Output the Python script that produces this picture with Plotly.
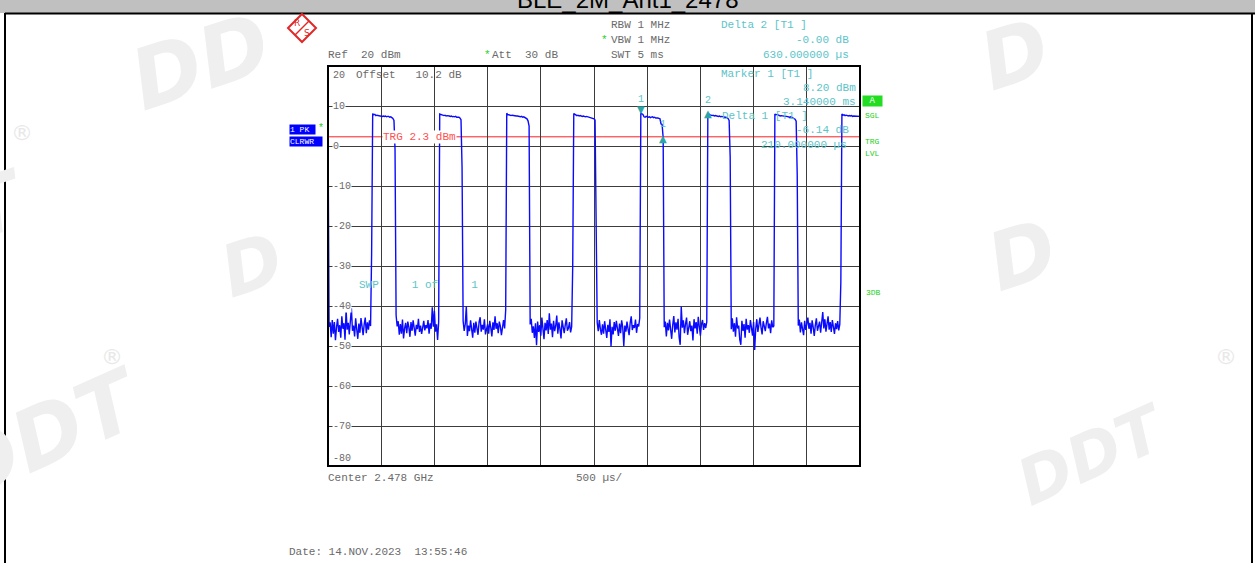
import plotly.graph_objects as go

# ---------------- data ----------------
DT_US = 10                      # sweep point spacing (µs)
x_range_us = [0, 5000]
y_range_db = [-80, 20]
y_tick_values = [20, 10, 0, -10, -20, -30, -40, -50, -60, -70, -80]
trigger_db = 2.3

start_db = 5.2
pulse_rise_idx = [42, 105, 168, 231, 294, 357, 420, 483]
rise_edge_db = [-27.0, -44.0, -41.0, -30.0, -43.0, -44.0, -45.0, -34.0]
fall_edge_db = [-0.8, -5.5, 5.0, -14.8, 2.06, -2.8, -7.3, None]

top1 = [8.1, 7.8, 7.9, 7.6, 7.7, 7.6, 7.5, 7.6, 7.5, 7.4, 7.5, 7.4, 7.5, 7.3, 7.4, 7.4, 7.2, 7.3, 7.1, 6.9, 6.4]
top2 = [8.0, 7.9, 7.7, 7.8, 7.6, 7.7, 7.5, 7.6, 7.6, 7.5, 7.4, 7.5, 7.3, 7.4, 7.3, 7.4, 7.2, 7.3, 7.2, 7.0, 6.6]
top3 = [8.2, 7.8, 7.8, 7.7, 7.6, 7.7, 7.6, 7.5, 7.6, 7.5, 7.5, 7.4, 7.4, 7.3, 7.4, 7.2, 7.3, 7.2, 7.1, 6.8, 6.3]
top4 = [8.1, 7.9, 7.8, 7.6, 7.7, 7.5, 7.6, 7.5, 7.4, 7.5, 7.4, 7.3, 7.4, 7.3, 7.2, 7.3, 7.2, 7.1, 7.0, 6.8, 6.5]
top5 = [8.2, 8.0, 7.9, 7.3, 7.2, 7.4, 7.3, 7.2, 7.3, 7.1, 7.2, 7.3, 7.1, 7.2, 7.0, 7.1, 7.0, 6.9, 6.8, 5.5, 5.4]
top6 = [8.2, 7.9, 7.8, 7.7, 7.6, 7.7, 7.5, 7.6, 7.5, 7.5, 7.4, 7.5, 7.3, 7.4, 7.3, 7.3, 7.2, 7.2, 7.1, 6.9, 6.4]
top7 = [8.0, 7.8, 7.9, 7.7, 7.6, 7.5, 7.6, 7.5, 7.4, 7.5, 7.4, 7.4, 7.3, 7.4, 7.2, 7.3, 7.2, 7.1, 7.0, 6.7, 6.2]
top8 = [8.0, 7.7, 7.8, 7.6, 7.7, 7.6, 7.5, 7.6, 7.5, 7.6, 7.4, 7.5, 7.5, 7.4, 7.5, 7.4, 7.5, 7.4]

noise0 = [-45.2, -44.1, -47.8, -43.5, -46.9, -44.0, -48.6, -45.3, -43.2, -46.5,
          -44.8, -47.9, -42.6, -45.7, -44.3, -48.4, -41.0, -45.9, -44.2, -47.1,
          -43.8, -40.6, -46.2, -44.9, -47.6, -43.1, -45.8, -48.2, -44.4, -46.7,
          -43.0, -45.5, -47.3, -44.6, -42.9, -46.8, -44.1, -45.9, -43.6, -45.0]
noise1 = [-42.3, -45.1, -43.8, -47.2, -44.5, -46.9, -43.4, -48.1, -45.6, -44.2,
          -46.8, -43.9, -45.3, -47.7, -44.0, -46.2, -43.6, -45.9, -47.4, -44.7,
          -45.8, -43.2, -46.5, -44.9, -47.0, -45.4, -43.7, -46.1, -44.8, -45.6,
          -43.5, -46.9, -44.3, -45.7, -40.3, -45.2, -41.2, -46.4, -44.6, -48.5]
noise2 = [-43.8, -46.2, -44.5, -40.1, -47.5, -44.9, -46.3, -43.6, -45.8, -47.9,
          -44.2, -46.7, -43.9, -45.5, -47.2, -44.0, -42.8, -46.4, -44.7, -45.9,
          -43.3, -47.1, -45.2, -44.6, -46.9, -43.7, -45.4, -47.6, -44.1, -46.0,
          -42.6, -45.7, -44.3, -46.8, -43.9, -45.1, -47.3, -44.8, -43.5, -45.6]
noise3 = [-44.6, -43.2, -46.7, -45.1, -48.0, -44.3, -49.8, -43.9, -46.5, -44.8,
          -47.4, -42.9, -45.6, -48.3, -44.2, -46.1, -43.5, -47.0, -41.8, -45.9,
          -44.4, -47.8, -43.7, -46.3, -45.0, -42.4, -46.9, -44.1, -45.7, -48.1,
          -43.6, -45.3, -46.8, -44.7, -43.1, -46.2, -45.5, -44.0, -46.6, -45.2]
noise4 = [-44.1, -46.3, -43.5, -45.8, -47.2, -44.6, -46.9, -43.8, -45.4, -48.0,
          -44.7, -46.5, -43.3, -50.1, -45.2, -47.1, -44.0, -46.2, -43.7, -45.9,
          -47.5, -44.4, -46.8, -43.6, -45.3, -50.0, -44.9, -46.4, -43.9, -45.7,
          -47.3, -44.2, -42.6, -46.0, -44.8, -45.5, -43.4, -46.7, -44.5, -45.1]
noise5 = [-45.3, -43.9, -47.6, -44.2, -46.1, -43.4, -45.8, -48.2, -44.7, -42.5,
          -46.6, -44.1, -45.9, -43.2, -47.8, -49.7, -40.2, -45.4, -43.6, -46.8,
          -44.5, -42.9, -47.2, -45.0, -43.8, -46.3, -44.9, -48.6, -43.3, -45.6,
          -44.0, -46.9, -42.7, -45.2, -47.4, -44.6, -43.5, -46.0, -44.3, -45.5]
noise6 = [-45.8, -43.1, -46.4, -44.3, -47.7, -42.8, -45.6, -44.9, -48.4, -49.7,
          -43.7, -46.2, -44.5, -47.9, -43.2, -45.9, -44.8, -46.7, -43.5, -45.2,
          -47.4, -44.0, -51.0, -45.7, -43.3, -46.5, -44.6, -42.9, -45.4, -47.1,
          -43.8, -45.0, -46.3, -44.2, -42.7, -45.6, -44.4, -46.8, -43.6, -45.3]
noise7 = [-44.9, -43.4, -46.6, -44.1, -45.8, -47.3, -43.7, -46.0, -44.5, -42.9,
          -45.7, -44.2, -46.9, -43.6, -45.3, -47.5, -44.8, -43.1, -46.2, -45.0,
          -43.9, -46.7, -44.4, -41.5, -45.6, -43.3, -46.4, -44.7, -42.6, -45.9,
          -44.0, -46.5, -43.5, -45.2, -47.0, -44.3, -45.8, -43.8, -46.1, -44.6]

tops = [top1, top2, top3, top4, top5, top6, top7, top8]
noises = [noise0, noise1, noise2, noise3, noise4, noise5, noise6, noise7]

marker1_idx = 294   # Marker 1 [T1]
delta1_idx = 315    # Delta 1 [T1]
delta2_idx = 357    # Delta 2 [T1]

# ---------------- build trace ----------------
trace_db = [start_db] + noises[0]
for k, r in enumerate(pulse_rise_idx):
    trace_db.append(rise_edge_db[k])
    trace_db += tops[k]
    if fall_edge_db[k] is not None:
        trace_db.append(fall_edge_db[k])
    if k + 1 < len(noises):
        trace_db += noises[k + 1]
trace_us = [i * DT_US for i in range(len(trace_db))]

# ---------------- layout helpers ----------------
W, H = 1255, 563
PL, PR, PT, PB = 328, 860, 66, 466


def px(x):
    return (x - PL) / (PR - PL)


def py(y):
    return (PB - y) / (PB - PT)


MONO = "Liberation Mono"
GRAY = "#6a6a6a"
CYAN = "#5cc4c8"
GREEN = "#22d022"
annotations = []


def txt(x, y, s, color=GRAY, size=11, xanchor="left", family=MONO, **kw):
    d = dict(x=px(x), y=py(y), xref="paper", yref="paper",
             text=s.replace(" ", "\u00a0"), showarrow=False,
             xanchor=xanchor, yanchor="middle",
             font=dict(family=family, size=size, color=color), borderpad=0)
    d.update(kw)
    annotations.append(d)


fig = go.Figure()
fig.add_trace(go.Scatter(x=trace_us, y=trace_db, mode="lines",
                         line=dict(color="#0a0aff", width=1.4), hoverinfo="skip",
                         showlegend=False))

# watermarks (faint logo texts)
WM = "#efefef"
for (x, y, s, size, ang) in [(200, 62, "DD", 84, -18), (252, 265, "D", 72, -18),
                             (-5, 205, "T", 80, -18), (45, 435, "DDT", 84, -24),
                             (1015, 55, "D", 80, -18), (1022, 255, "D", 80, -18),
                             (1092, 455, "DDT", 64, -24)]:
    annotations.append(dict(x=px(x), y=py(y), xref="paper", yref="paper", text=s,
                            showarrow=False, textangle=ang, xanchor="center", yanchor="middle",
                            font=dict(family="DejaVu Sans", size=size, color=WM,
                                      weight="bold", style="italic")))
for (x, y) in [(22, 132), (112, 356), (1226, 356)]:
    txt(x, y, "®", color="#e8e8e8", size=22, xanchor="center", family="DejaVu Sans")

# title (cut off by the top edge)
annotations.append(dict(x=px(628), y=py(-1), xref="paper", yref="paper",
                        text="BLE_2M_Ant1_2478", showarrow=False, xanchor="center",
                        yanchor="middle", font=dict(family="Liberation Sans", size=24, color="#000")))

# header texts
txt(610, 25, "RBW 1 MHz")
txt(604, 40, "*", color=GREEN, xanchor="center")
txt(610, 40, "VBW 1 MHz")
txt(610, 55, "SWT 5 ms")
txt(327, 55, "Ref  20 dBm")
txt(487, 55, "*", color=GREEN, xanchor="center")
txt(491, 55, "Att  30 dB")
txt(720, 25, "Delta 2 [T1 ]", color=CYAN)
txt(850, 40, "-0.00 dB", color=CYAN, xanchor="right")
txt(850, 55, "630.000000 µs", color=CYAN, xanchor="right")

# inside plot texts
txt(355, 75, "Offset   10.2 dB")
txt(720, 74, "Marker 1 [T1 ]", color=CYAN)
txt(857, 88, "8.20 dBm", color=CYAN, xanchor="right")
txt(857, 102, "3.140000 ms", color=CYAN, xanchor="right")
txt(721, 116, "Delta 1 [T1 ]", color=CYAN)
txt(850, 130, "-6.14 dB", color=CYAN, xanchor="right")
txt(848, 145, "210.000000 µs", color=CYAN, xanchor="right")
txt(358, 285, "SWP     1 of     1", color=CYAN)

# trigger
txt(419, 137, "TRG 2.3 dBm", color="#ff5050", xanchor="center", bgcolor="white")

# y tick labels inside plot
for v in y_tick_values:
    shift = 0
    if v == y_range_db[1]:
        shift = -9
    elif v == y_range_db[0]:
        shift = 8
    annotations.append(dict(x=px(332), xref="paper", y=v, yref="y", yshift=shift,
                            text=str(v), showarrow=False, xanchor="left", yanchor="middle",
                            font=dict(family=MONO, size=10, color=GRAY),
                            bgcolor="white" if shift == 0 else None, borderpad=0))

# bottom texts
txt(327, 478, "Center 2.478 GHz")
txt(575, 478, "500 µs/")
txt(288, 552, "Date: 14.NOV.2023  13:55:46")

# left boxes
txt(289, 129, "1 PK", color="white", size=8, bgcolor="#0000ff", width=25, height=9, align="left")
txt(289, 141, "CLRWR", color="white", size=8, bgcolor="#0000ff", width=32, height=9, align="left")
txt(321, 128, "*", color=GREEN, size=10, xanchor="center")

# right side labels
txt(862, 101, "A", color="white", size=9, bgcolor="#22dd22", width=19, height=10)
txt(864, 115, "SGL", color=GREEN, size=8)
txt(864, 141, "TRG", color=GREEN, size=8)
txt(864, 153, "LVL", color=GREEN, size=8)
txt(865, 292, "3DB", color=GREEN, size=8)

# markers
MK = "#2aa6a6"
m1x, m1y = trace_us[marker1_idx], trace_db[marker1_idx]
d1x, d1y = trace_us[delta1_idx], trace_db[delta1_idx]
d2x, d2y = trace_us[delta2_idx], trace_db[delta2_idx]
for (mx, my, sym, sshift, lab, lshift) in [(m1x, m1y, "▼", 4, "1", 14),
                                           (d2x, d2y, "▲", 0, "2", 13),
                                           (d1x, d1y, "▲", -1, "1", 13)]:
    annotations.append(dict(x=mx, y=my, xref="x", yref="y", text=sym, showarrow=False,
                            xanchor="center", yanchor="middle", yshift=sshift,
                            font=dict(family="DejaVu Sans", size=10, color=MK),
                            borderpad=0))
    annotations.append(dict(x=mx, y=my, xref="x", yref="y", text=lab, showarrow=False,
                            xanchor="center", yanchor="middle", yshift=lshift,
                            font=dict(family=MONO, size=10, color=CYAN), borderpad=0))

shapes = []
# title bar
shapes.append(dict(type="rect", xref="paper", yref="paper", x0=px(-2), x1=px(W + 2),
                   y0=py(13), y1=py(-2), fillcolor="#c0c0c0", line=dict(width=0), layer="below"))
shapes.append(dict(type="line", xref="paper", yref="paper", x0=px(5), x1=px(W + 2),
                   y0=py(13.5), y1=py(13.5), line=dict(color="black", width=2)))
shapes.append(dict(type="line", xref="paper", yref="paper", x0=px(5), x1=px(5),
                   y0=py(13), y1=py(H + 2), line=dict(color="black", width=2)))
shapes.append(dict(type="line", xref="paper", yref="paper", x0=px(1252), x1=px(1252),
                   y0=py(13), y1=py(H + 2), line=dict(color="black", width=2)))
# plot frame
shapes.append(dict(type="rect", xref="paper", yref="paper", x0=0, x1=1, y0=0, y1=1,
                   line=dict(color="black", width=2)))
# trigger line
shapes.append(dict(type="line", xref="x", yref="y", x0=x_range_us[0], x1=x_range_us[1],
                   y0=trigger_db, y1=trigger_db, line=dict(color="#ff2020", width=1), layer="below"))
# R&S logo
cx, cy, rr = 302, 28, 14
shapes.append(dict(type="path", xref="paper", yref="paper",
                   path=f"M {px(cx)},{py(cy - rr)} L {px(cx + rr)},{py(cy)} L {px(cx)},{py(cy + rr)} L {px(cx - rr)},{py(cy)} Z",
                   line=dict(color="#e02828", width=2)))
shapes.append(dict(type="line", xref="paper", yref="paper", x0=px(cx - 7), y0=py(cy + 7),
                   x1=px(cx + 7), y1=py(cy - 7), line=dict(color="#e02828", width=1.5)))
txt(297, 23, "R", color="#e02828", size=9, xanchor="center", family="DejaVu Sans")
txt(307, 33, "S", color="#e02828", size=9, xanchor="center", family="DejaVu Sans")

fig.update_layout(
    width=W, height=H,
    margin=dict(l=PL, r=W - PR, t=PT, b=H - PB, pad=0),
    paper_bgcolor="white", plot_bgcolor="white",
    xaxis=dict(range=x_range_us, showgrid=True, dtick=500, tick0=0, gridcolor="#3c3c3c",
               gridwidth=1, zeroline=False, showticklabels=False, ticks="", showline=False),
    yaxis=dict(range=y_range_db, showgrid=True, dtick=10, tick0=0, gridcolor="#3c3c3c",
               gridwidth=1, zeroline=False, showticklabels=False, ticks="", showline=False),
    annotations=annotations, shapes=shapes, showlegend=False,
)
fig.write_html("out.html", config={"displayModeBar": False},
               post_script="document.body.style.margin='0px';")
